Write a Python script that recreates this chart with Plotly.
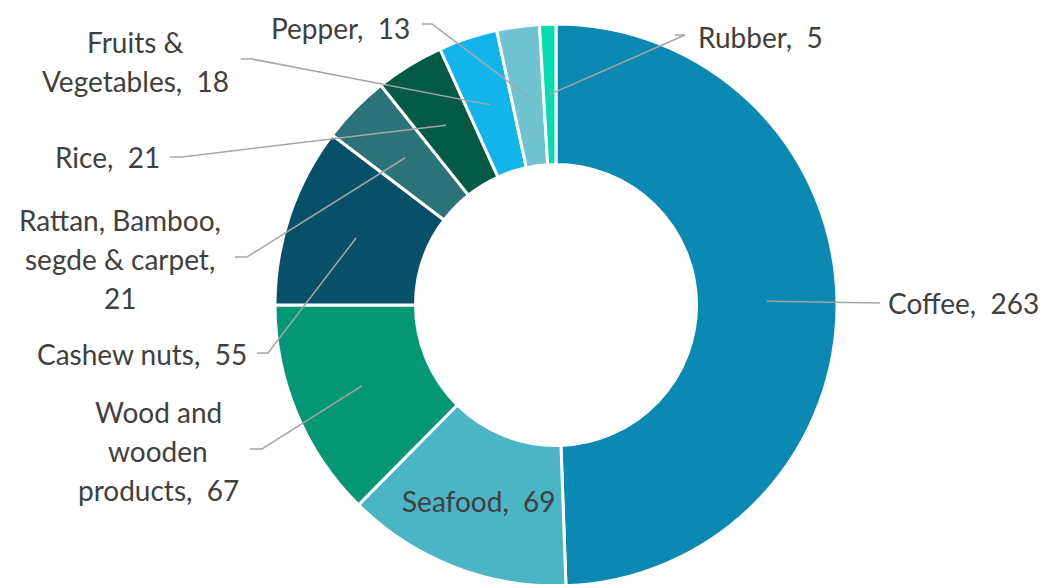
import math
import plotly.graph_objects as go

# ---- data ----
categories = ["Coffee", "Seafood", "Wood and wooden products", "Cashew nuts",
              "Rattan, Bamboo, segde & carpet", "Rice", "Fruits & Vegetables",
              "Pepper", "Rubber"]
values = [263, 69, 67, 55, 21, 21, 18, 13, 5]

# ---- styles / layout ----
colors = ["#0B89B3", "#4BB4C5", "#049775", "#085069", "#2B7279",
          "#045A45", "#12B5EA", "#70C3D1", "#06DCB0"]
display_names = ["Coffee", "Seafood", "Wood and<br>wooden<br>products", "Cashew nuts",
                 "Rattan, Bamboo,<br>segde & carpet", "Rice", "Fruits &<br>Vegetables",
                 "Pepper", "Rubber"]
separators = [",  ", ",  ", ",  ", ",  ", ",<br>", ",  ", ",  ", ",  ", ",  "]
# text anchor (px): x, y of first line center, xanchor
text_pos = [(887, 303, "left"), None, (158, 412, "center"), (248, 354, "right"),
            (120, 220, "center"), (161, 157, "right"), (135, 42, "center"),
            (411, 28, "right"), (697, 37, "left")]
# leader stub (px): start, end of short horizontal segment (None = no line)
stubs = [((880, 303), (880, 303)), None, ((250, 449), (262, 449)),
         ((257, 353), (268, 353)), ((235, 257), (247, 257)),
         ((170, 157), (182, 157)), ((241, 59), (252, 59)),
         ((422, 24), (432, 24)), ((675, 35), (685, 35))]

W, H = 1048, 584
OFF = 8  # page body margin
CX, CY, R = 556 - OFF, 305 - OFF, 281
HOLE = 0.5
FONT = "Lato"
FS = 28
LINE_H = 39
TXT = "#404040"

def px(x, y):
    return x / W, 1 - y / H

fig = go.Figure(go.Pie(
    labels=categories, values=values, sort=False, direction="clockwise",
    rotation=0, hole=HOLE, textinfo="none", hoverinfo="label+value",
    marker=dict(colors=colors, line=dict(color="white", width=3)),
    domain=dict(x=[(CX - R) / W, (CX + R) / W], y=[(H - CY - R) / H, (H - CY + R) / H]),
    showlegend=False,
))

total = sum(values)
mid_r = R * (1 + HOLE) / 2
annotations = []
shapes = []
cum = 0
for i, v in enumerate(values):
    ang = (cum + v / 2) / total * 2 * math.pi
    cum += v
    ax = CX + mid_r * math.sin(ang)
    ay = CY - mid_r * math.cos(ang)
    text = display_names[i] + separators[i] + str(v)
    lines = text.split("<br>")
    if text_pos[i] is None:
        tx, ty, xa = ax, ay, "center"
    else:
        tx, ty, xa = text_pos[i][0] - OFF, text_pos[i][1] - OFF, text_pos[i][2]
    for k, ln in enumerate(lines):
        x, y = px(tx, ty + k * LINE_H)
        annotations.append(dict(x=x, y=y, xref="paper", yref="paper", text=ln,
                                showarrow=False, xanchor=xa, yanchor="middle",
                                borderpad=0,
                                font=dict(family=FONT, size=FS, color=TXT)))
    if stubs[i] is not None:
        (sx0, sy0), (sx1, sy1) = stubs[i]
        p0 = px(sx0 - OFF, sy0 - OFF); p1 = px(sx1 - OFF, sy1 - OFF); pa = px(ax, ay)
        shapes.append(dict(type="path", xref="paper", yref="paper",
                           path=f"M {p0[0]},{p0[1]} L {p1[0]},{p1[1]} L {pa[0]},{pa[1]}",
                           line=dict(color="#A6A6A6", width=1.5)))

fig.update_layout(width=W, height=H, margin=dict(l=0, r=0, t=0, b=0),
                  paper_bgcolor="white", plot_bgcolor="white",
                  annotations=annotations, shapes=shapes)
fig.write_html("out.html")
